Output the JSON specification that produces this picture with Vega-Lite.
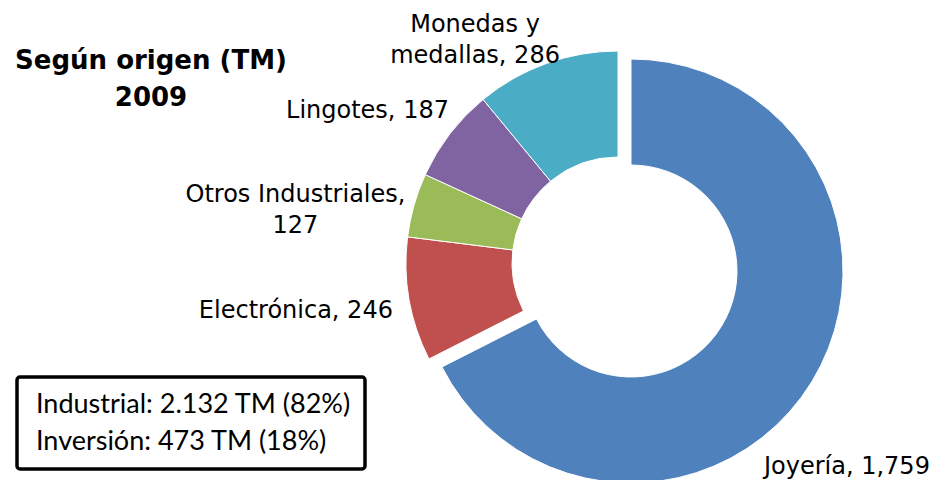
{
  "$schema": "https://vega.github.io/schema/vega-lite/v6.json",
  "autosize": "none",
  "padding": {"left": 300, "top": 46, "right": 0, "bottom": 0},
  "width": 636,
  "height": 434,
  "background": "white",
  "title": {
    "text": ["Según origen (TM)", "2009"],
    "anchor": "start",
    "frame": "group",
    "align": "center",
    "baseline": "top",
    "dx": -149,
    "dy": 176,
    "offset": 0,
    "font": "DejaVu Sans",
    "fontSize": 26,
    "fontWeight": "bold",
    "color": "black",
    "lineHeight": 37
  },
  "data": {"values": [
    {"categoria": "Joyería", "valor": 1759, "etiqueta": "Joyería, 1,759"},
    {"categoria": "Electrónica", "valor": 246, "etiqueta": "Electrónica, 246"},
    {"categoria": "Otros Industriales", "valor": 127, "etiqueta": "Otros Industriales,\n127"},
    {"categoria": "Lingotes", "valor": 187, "etiqueta": "Lingotes, 187"},
    {"categoria": "Monedas y medallas", "valor": 286, "etiqueta": "Monedas y\nmedallas, 286"}
  ]},
  "transform": [{"window": [{"op": "row_number", "as": "orden"}]}],
  "layer": [
    {
      "mark": {"type": "arc", "innerRadius": 106, "outerRadius": 212, "stroke": "white", "strokeWidth": 1},
      "encoding": {
        "theta": {"field": "valor", "type": "quantitative", "stack": true},
        "order": {"field": "orden", "type": "quantitative"},
        "color": {"field": "categoria", "type": "nominal", "legend": null,
          "scale": {"domain": ["Joyería", "Electrónica", "Otros Industriales", "Lingotes", "Monedas y medallas"],
                    "range": ["#4F81BD", "#C0504D", "#9BBB59", "#8064A2", "#4BACC6"]}},
        "opacity": {"condition": {"test": "datum.categoria === 'Joyería'", "value": 0}, "value": 1}
      }
    },
    {
      "mark": {"type": "arc", "innerRadius": 106, "outerRadius": 212, "stroke": "white", "strokeWidth": 1, "xOffset": 13, "yOffset": 8},
      "encoding": {
        "theta": {"field": "valor", "type": "quantitative", "stack": true},
        "order": {"field": "orden", "type": "quantitative"},
        "color": {"field": "categoria", "type": "nominal", "legend": null},
        "opacity": {"condition": {"test": "datum.categoria === 'Joyería'", "value": 1}, "value": 0}
      }
    },
    {
      "mark": {"type": "text", "radius": 305, "dx": -31, "dy": 51, "align": "center", "baseline": "alphabetic", "font": "DejaVu Sans", "fontSize": 24, "color": "black", "lineBreak": "\n", "lineHeight": 31},
      "encoding": {
        "theta": {"field": "valor", "type": "quantitative", "stack": true},
        "order": {"field": "orden", "type": "quantitative"},
        "detail": {"field": "categoria", "type": "nominal"},
        "text": {"condition": {"test": "datum.categoria === 'Joyería'", "field": "etiqueta", "type": "nominal"}, "value": ""}
      }
    },
    {
      "mark": {"type": "text", "radius": 327, "dx": 0, "dy": -1, "align": "center", "baseline": "alphabetic", "font": "DejaVu Sans", "fontSize": 24, "color": "black", "lineBreak": "\n", "lineHeight": 31},
      "encoding": {
        "theta": {"field": "valor", "type": "quantitative", "stack": true},
        "order": {"field": "orden", "type": "quantitative"},
        "detail": {"field": "categoria", "type": "nominal"},
        "text": {"condition": {"test": "datum.categoria === 'Electrónica'", "field": "etiqueta", "type": "nominal"}, "value": ""}
      }
    },
    {
      "mark": {"type": "text", "radius": 327, "dx": -8, "dy": 28, "align": "center", "baseline": "alphabetic", "font": "DejaVu Sans", "fontSize": 24, "color": "black", "lineBreak": "\n", "lineHeight": 31},
      "encoding": {
        "theta": {"field": "valor", "type": "quantitative", "stack": true},
        "order": {"field": "orden", "type": "quantitative"},
        "detail": {"field": "categoria", "type": "nominal"},
        "text": {"condition": {"test": "datum.categoria === 'Otros Industriales'", "field": "etiqueta", "type": "nominal"}, "value": ""}
      }
    },
    {
      "mark": {"type": "text", "radius": 287, "dx": -23, "dy": 30, "align": "center", "baseline": "alphabetic", "font": "DejaVu Sans", "fontSize": 24, "color": "black", "lineBreak": "\n", "lineHeight": 31},
      "encoding": {
        "theta": {"field": "valor", "type": "quantitative", "stack": true},
        "order": {"field": "orden", "type": "quantitative"},
        "detail": {"field": "categoria", "type": "nominal"},
        "text": {"condition": {"test": "datum.categoria === 'Lingotes'", "field": "etiqueta", "type": "nominal"}, "value": ""}
      }
    },
    {
      "mark": {"type": "text", "radius": 266, "dx": -53, "dy": 19, "align": "center", "baseline": "alphabetic", "font": "DejaVu Sans", "fontSize": 24, "color": "black", "lineBreak": "\n", "lineHeight": 31},
      "encoding": {
        "theta": {"field": "valor", "type": "quantitative", "stack": true},
        "order": {"field": "orden", "type": "quantitative"},
        "detail": {"field": "categoria", "type": "nominal"},
        "text": {"condition": {"test": "datum.categoria === 'Monedas y medallas'", "field": "etiqueta", "type": "nominal"}, "value": ""}
      }
    },
    {
      "data": {"values": [
        {"resumen": "Industrial: 2.132 TM (82%)"},
        {"resumen": "Inversión: 473 TM (18%)"}
      ]},
      "mark": {"type": "point", "size": 0, "opacity": 0},
      "encoding": {
        "shape": {"field": "resumen", "type": "nominal", "sort": null,
          "legend": {
            "orient": "none", "legendX": -283, "legendY": 331, "direction": "vertical",
            "title": null, "padding": 14, "strokeColor": "black", "fillColor": "white", "cornerRadius": 3,
            "labelFont": "Lato", "labelFontSize": 27, "labelColor": "black", "labelLimit": 600, "labelOffset": -22,
            "symbolSize": 0, "symbolOpacity": 0, "symbolStrokeWidth": 0, "rowPadding": 9,
            "encode": {"labels": {"update": {"dy": {"value": 3}}}}
          }}
      }
    }
  ],
  "config": {"view": {"stroke": null}, "legend": {"strokeWidth": 3.5}}
}
